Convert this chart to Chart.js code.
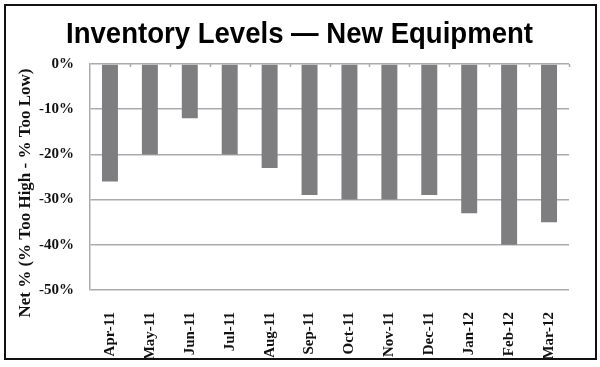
<!DOCTYPE html>
<html>
<head>
<meta charset="utf-8">
<script src="https://cdn.jsdelivr.net/npm/chart.js@4.4.1/dist/chart.umd.min.js"></script>
<style>
  html, body { margin: 0; padding: 0; background: #fff; }
  #wrap { position: relative; width: 600px; height: 367px; }
  #frame { position: absolute; left: 4px; top: 4px; width: 593px; height: 356px; box-sizing: border-box; border: 2px solid #111; pointer-events: none; }
  canvas { position: absolute; left: 0; top: 0; }
</style>
</head>
<body>
<div id="wrap">
  <canvas id="c" width="600" height="367"></canvas>
  <div id="frame"></div>
</div>
<script>
const titleText = "Inventory Levels \u2014 New Equipment";
const yTitleText = "Net % (% Too High - % Too Low)";
const categories = ["Apr-11","May-11","Jun-11","Jul-11","Aug-11","Sep-11","Oct-11","Nov-11","Dec-11","Jan-12","Feb-12","Mar-12"];
const netValues = [-26, -20, -12, -20, -23, -29, -30, -30, -29, -33, -40, -35];
const yTicks = [0, -10, -20, -30, -40, -50];

const serifFam = "'Liberation Serif', 'Times New Roman', serif";
const gridColor = '#ababab';

const topTicksPlugin = {
  id: 'topTicks',
  afterDatasetsDraw(chart) {
    const x = chart.scales.x, y = chart.scales.y;
    const ctx = chart.ctx;
    const y0 = y.getPixelForValue(0);
    const n = categories.length;
    const step = (x.right - x.left) / n;
    ctx.save();
    ctx.strokeStyle = gridColor;
    ctx.lineWidth = 1.5;
    ctx.beginPath();
    for (let i = 1; i <= n; i++) {
      const px = Math.round(x.left + i * step) + 0.5;
      ctx.moveTo(px, y0);
      ctx.lineTo(px, y0 + 3);
    }
    ctx.stroke();
    ctx.restore();
  }
};

const textPlugin = {
  id: 'texts',
  afterDraw(chart) {
    const ctx = chart.ctx;
    // main title, condensed to the reference width
    ctx.save();
    ctx.font = "bold 29px 'Liberation Sans', Arial, sans-serif";
    const w = ctx.measureText(titleText).width;
    const sx = 467 / w;
    ctx.translate(299.5, 43);
    ctx.scale(sx, 1);
    ctx.fillStyle = '#000';
    ctx.textAlign = 'center';
    ctx.textBaseline = 'alphabetic';
    ctx.fillText(titleText, 0, 0);
    ctx.restore();
    // y-axis title
    ctx.save();
    ctx.translate(26, 193);
    ctx.rotate(-Math.PI / 2);
    ctx.font = "bold 17px " + serifFam;
    ctx.fillStyle = '#111';
    ctx.textAlign = 'center';
    ctx.textBaseline = 'middle';
    ctx.fillText(yTitleText, 0, 0);
    ctx.restore();
  }
};

new Chart(document.getElementById('c'), {
  type: 'bar',
  data: {
    labels: categories,
    datasets: [{
      data: netValues,
      backgroundColor: '#7e7e81',
      borderWidth: 0,
      barPercentage: 0.8,
      categoryPercentage: 0.5
    }]
  },
  plugins: [topTicksPlugin, textPlugin],
  options: {
    responsive: false,
    animation: false,
    devicePixelRatio: 1,
    layout: { padding: { left: 10, right: 31, top: 64, bottom: 7 } },
    plugins: {
      legend: { display: false },
      tooltip: { enabled: false },
      title: { display: false }
    },
    scales: {
      x: {
        grid: { display: false },
        border: { display: false },
        ticks: {
          color: '#111',
          font: { family: serifFam, weight: 'bold', size: 15 },
          minRotation: 90,
          maxRotation: 90,
          padding: 14,
          autoSkip: false
        },
        afterFit(scale) { scale.height = 70; }
      },
      y: {
        min: -50,
        max: 0,
        afterBuildTicks(scale) { scale.ticks = yTicks.map(v => ({ value: v })); },
        grid: { color: gridColor, lineWidth: 1.5, drawTicks: false },
        border: { display: true, color: gridColor, width: 1.5 },
        ticks: {
          color: '#111',
          font: { family: serifFam, weight: 'bold', size: 15 },
          padding: 16,
          callback: (v) => v + '%'
        },
        afterFit(scale) { scale.width = 80; }
      }
    }
  }
});
</script>
</body>
</html>
